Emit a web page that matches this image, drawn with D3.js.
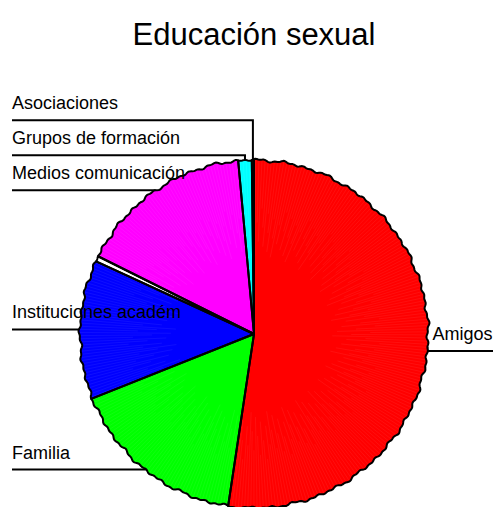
<!DOCTYPE html>
<head>
  <meta charset="utf-8">
  <title>Educación sexual</title>
  <style>
    body { margin: 0; background: #fff; font-family: "Liberation Sans", Arial, sans-serif; }
  </style>
  <script src="https://cdn.jsdelivr.net/npm/d3@7"></script>
</head>
<body>
  <script>
    // data (percent of answers)
    var categories = ["Amigos", "Familia", "Instituciones académ", "", "Medios comunicación", "Grupos de formación", "Asociaciones"];
    var values = [52.4, 16.6, 12.9, 0.5, 16.2, 1.25, 0.2];
    var colors = ["#ff0000", "#00ff00", "#0000ff", "#ffffff", "#ff00ff", "#00ffff", "#ffff00"];

    var width = 493, height = 507;
    var cx = 254, cy = 334, R = 174;

    var svg = d3.select("body").append("svg")
      .attr("width", width)
      .attr("height", height);

    var data = categories.map(function (c, i) { return {label: c, value: values[i], color: colors[i]}; });
    var arcs = d3.pie().sort(null).value(d => d.value)(data);

    // slightly shaky outline, like the original
    function rad(a) {
      return R + 0.8 * Math.sin(a * 47) + 0.6 * Math.sin(a * 113 + 1) + 0.5 * Math.sin(a * 29 + 2);
    }
    function pt(a, r) { return [cx + r * Math.sin(a), cy - r * Math.cos(a)]; }

    function slicePath(d) {
      var pts = [[cx, cy]];
      var n = Math.max(2, Math.ceil((d.endAngle - d.startAngle) / 0.008));
      for (var k = 0; k <= n; k++) {
        var a = d.startAngle + (d.endAngle - d.startAngle) * k / n;
        pts.push(pt(a, rad(a)));
      }
      return d3.line()(pts) + "Z";
    }

    // label positions: left labels pushed up so they do not overlap
    var gap = 35, lastY = Infinity;
    arcs.forEach(function (d) {
      var mid = (d.startAngle + d.endAngle) / 2;
      var p = pt(mid, rad(mid));
      d.mx = p[0]; d.my = p[1];
      d.left = mid > Math.PI;
      if (d.left) {
        d.uy = Math.min(d.my, lastY - gap);
        lastY = d.uy;
      } else {
        d.uy = d.my + 4;
      }
    });

    var labelled = arcs.filter(d => d.data.label !== "");

    // connector lines
    svg.append("g").selectAll("path")
      .data(labelled)
      .enter().append("path")
        .attr("d", d => d.left
          ? "M12," + d.uy + "H" + d.mx + "V" + d.my
          : "M" + width + "," + d.uy + "H" + d.mx + "V" + d.my)
        .attr("fill", "none")
        .attr("stroke", "#000")
        .attr("stroke-width", 2);

    // slices
    var pie = svg.append("g");
    pie.selectAll("path.slice")
      .data(arcs)
      .enter().append("path")
        .attr("class", "slice")
        .attr("d", slicePath)
        .attr("fill", d => d.data.color);

    // faint radial texture near the rim
    var rays = [];
    arcs.forEach(function (d) {
      if (d.data.color === "#ffffff") return;
      for (var a = d.startAngle + 0.01; a < d.endAngle - 0.005; a += 0.018) rays.push(a);
    });
    pie.selectAll("line.ray")
      .data(rays)
      .enter().append("line")
        .attr("class", "ray")
        .attr("x1", (a, i) => pt(a, R * (0.45 + 0.3 * ((i * 7) % 11) / 11))[0])
        .attr("y1", (a, i) => pt(a, R * (0.45 + 0.3 * ((i * 7) % 11) / 11))[1])
        .attr("x2", a => pt(a, rad(a) - 1)[0])
        .attr("y2", a => pt(a, rad(a) - 1)[1])
        .attr("stroke", "#fff")
        .attr("stroke-opacity", 0.1)
        .attr("stroke-width", 0.6);

    pie.selectAll("path.edge")
      .data(arcs)
      .enter().append("path")
        .attr("class", "edge")
        .attr("d", slicePath)
        .attr("fill", "none")
        .attr("stroke", "#000")
        .attr("stroke-width", 2)
        .attr("stroke-linejoin", "round");

    // labels
    svg.append("g").selectAll("text")
      .data(labelled)
      .enter().append("text")
        .attr("x", d => d.left ? 12 : d.mx + 5)
        .attr("y", d => d.uy - 11)
        .attr("font-size", "18px")
        .attr("fill", "#000")
        .text(d => d.data.label);

    svg.append("text")
      .attr("x", 254)
      .attr("y", 45)
      .attr("text-anchor", "middle")
      .attr("font-size", "31px")
      .text("Educación sexual");
  </script>
</body>
